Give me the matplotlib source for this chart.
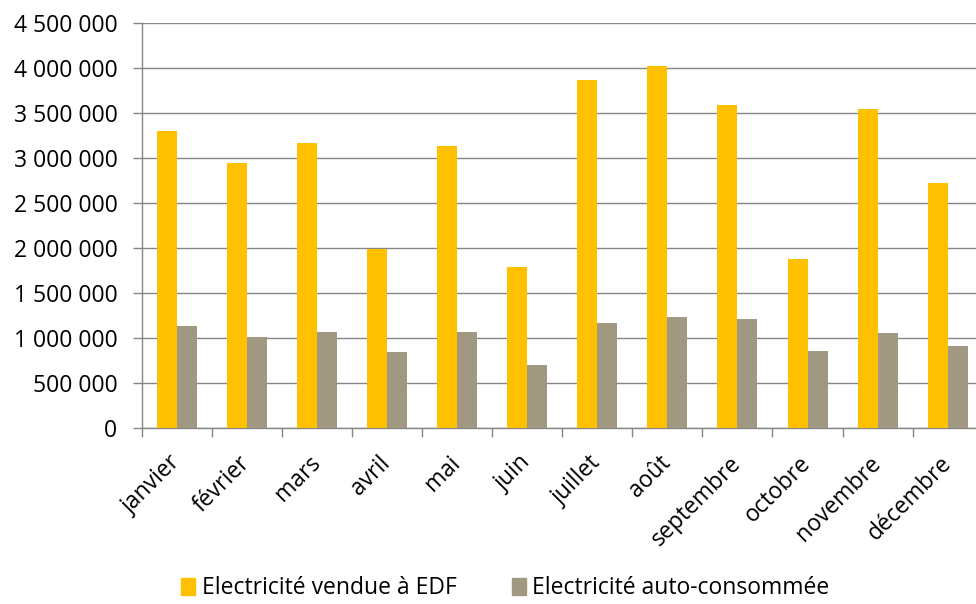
import matplotlib
matplotlib.use("Agg")
import matplotlib.pyplot as plt
import numpy as np
from matplotlib.ticker import FuncFormatter, FixedLocator
from matplotlib.patches import Patch

# données mensuelles (kWh)
mois = ["janvier", "février", "mars", "avril", "mai", "juin",
        "juillet", "août", "septembre", "octobre", "novembre", "décembre"]
vendue_edf = [3295000, 2942000, 3172000, 1985000, 3130000, 1793000,
              3867000, 4019000, 3590000, 1882000, 3541000, 2727000]
auto_conso = [1131000, 1011000, 1067000, 838000, 1063000, 704000,
              1160000, 1227000, 1208000, 852000, 1049000, 911000]
noms_series = ["Electricité vendue à EDF", "Electricité auto-consommée"]
couleurs = ["#FFC000", "#A09880"]

plt.rcParams["font.family"] = ["Open Sans", "DejaVu Sans"]
fs = 16.5
gris = "#868686"

fig = plt.figure(figsize=(9.76, 6.04), dpi=100)
ax = fig.add_axes([0.1452, 0.2917, 0.8617, 0.670])

x = np.arange(len(mois))
w = 20 / 70.1
ax.bar(x - w / 2, vendue_edf, width=w, color=couleurs[0], zorder=3)
ax.bar(x + w / 2, auto_conso, width=w, color=couleurs[1], zorder=3)

ax.set_xlim(-0.5, len(mois) - 0.5)
ax.set_ylim(0, 4500000)
ax.set_yticks(np.arange(0, 4500001, 500000))
ax.yaxis.set_major_formatter(FuncFormatter(lambda v, p: f"{int(v):,}".replace(",", " ")))
ax.yaxis.grid(True, color=gris, lw=1.0, zorder=0)
ax.set_axisbelow(True)

# ticks aux limites des catégories, étiquettes au centre
ax.xaxis.set_major_locator(FixedLocator(np.arange(-0.5, len(mois), 1.0)))
ax.xaxis.set_major_formatter(FuncFormatter(lambda v, p: ""))
ax.xaxis.set_minor_locator(FixedLocator(x))
ax.set_xticklabels(mois, minor=True)
ax.tick_params(axis="x", which="major", length=6.5, width=1.0, color=gris, direction="out")
ax.tick_params(axis="x", which="minor", length=0, pad=23)
ax.tick_params(axis="y", length=6.5, width=1.0, color=gris, pad=11, labelsize=fs)
for lab in ax.get_xticklabels(minor=True):
    lab.set_rotation(45)
    lab.set_ha("right")
    lab.set_va("center")
    lab.set_rotation_mode("anchor")
    lab.set_fontsize(fs)

for s in ["top", "right"]:
    ax.spines[s].set_visible(False)
for s in ["left", "bottom"]:
    ax.spines[s].set_color(gris)
    ax.spines[s].set_linewidth(1.0)

handles = [Patch(color=c) for c in couleurs]
fig.legend(handles, noms_series, loc="center", bbox_to_anchor=(0.518, 0.026),
           ncol=2, frameon=False, fontsize=fs, handlelength=0.6, handleheight=0.8,
           handletextpad=0.3, columnspacing=2.4, borderaxespad=0, borderpad=0)

fig.savefig("out.png", dpi=100)
